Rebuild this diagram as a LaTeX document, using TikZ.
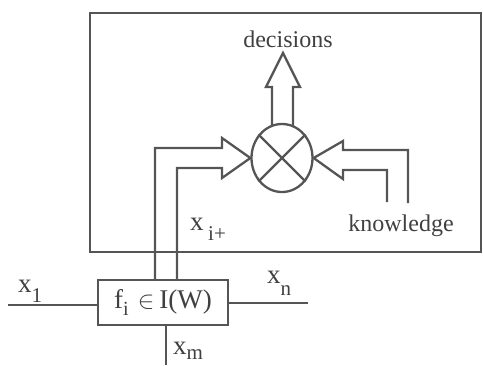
\documentclass[tikz,border=0pt]{standalone}
\usepackage{fontspec}
\setmainfont{Liberation Serif}
\usetikzlibrary{shapes.geometric}
\definecolor{ink}{HTML}{555555}
\definecolor{txt}{HTML}{404040}
\newcommand{\subt}[2]{\raisebox{#1}{\fontsize{21}{21}\selectfont #2}}
\begin{document}
\begin{tikzpicture}[x=1pt,y=-1pt,
  ln/.style={draw=ink,line width=2.3pt,line join=miter},
  lbl/.style={text=txt,inner sep=0pt,font=\fontsize{24}{24}\selectfont},
  xl/.style={text=txt,inner sep=0pt,font=\fontsize{27}{27}\selectfont,anchor=base west},
]
\useasboundingbox (0,0) rectangle (483,365);
% outer frame
\draw[ln] (90,13) rectangle (481,252);
% operator
\node[ln, ellipse, minimum width=61pt, minimum height=68pt, inner sep=0pt] (op) at (282,158) {};
\draw[ln] (op.45) -- (op.225);
\draw[ln] (op.135) -- (op.-45);
% function box
\node[ln, rectangle, minimum width=130pt, minimum height=45pt, inner sep=0pt, text=txt,
  font=\fontsize{27}{27}\selectfont] (f) at (163,302.5)
  {f\raisebox{-7pt}{\fontsize{20}{20}\selectfont i}\hspace{9pt}$\in$\hspace{5pt}I(W)};
% free ends
\coordinate (x1end) at (8,305);
\coordinate (xnend) at (308,303);
\coordinate (xmend) at (166,365);
\draw[ln] (x1end) -- (x1end -| f.west);
\draw[ln] (xnend -| f.east) -- (xnend);
\draw[ln] (xmend |- f.south) -- (xmend);
% left hollow arrow
\coordinate (la) at (155,280);
\coordinate (lb) at (177,280);
\draw[ln] (la) -- (155,148) -- (222,148) -- (222,138) -- (op.west) -- (222,178) -- (222,168) -- (177,168) -- (lb);
% up hollow arrow
\draw[ln] (272,126) -- (272,87) -- (266,87) -- (283,53) -- (300,87) -- (293,87) -- (293,126);
% right hollow arrow
\coordinate (ra) at (408,203);
\coordinate (rb) at (387,202);
\draw[ln] (ra) -- (408,150) -- (343,150) -- (343,141) -- (op.east) -- (343,179) -- (343,170) -- (387,170) -- (rb);
% labels
\node[lbl, anchor=base] (dec) at (288,47) {decisions};
\node[lbl, anchor=base] (kn) at (401,231) {knowledge};
\node[xl] (xi) at (190,230) {x\,\subt{-10pt}{i+}};
\node[xl] (x1) at (18,292) {x\subt{-10pt}{1}};
\node[xl] (xn) at (267,283) {x\subt{-12pt}{n}};
\node[xl] (xm) at (173,354) {x\subt{-5pt}{m}};
\end{tikzpicture}
\end{document}
